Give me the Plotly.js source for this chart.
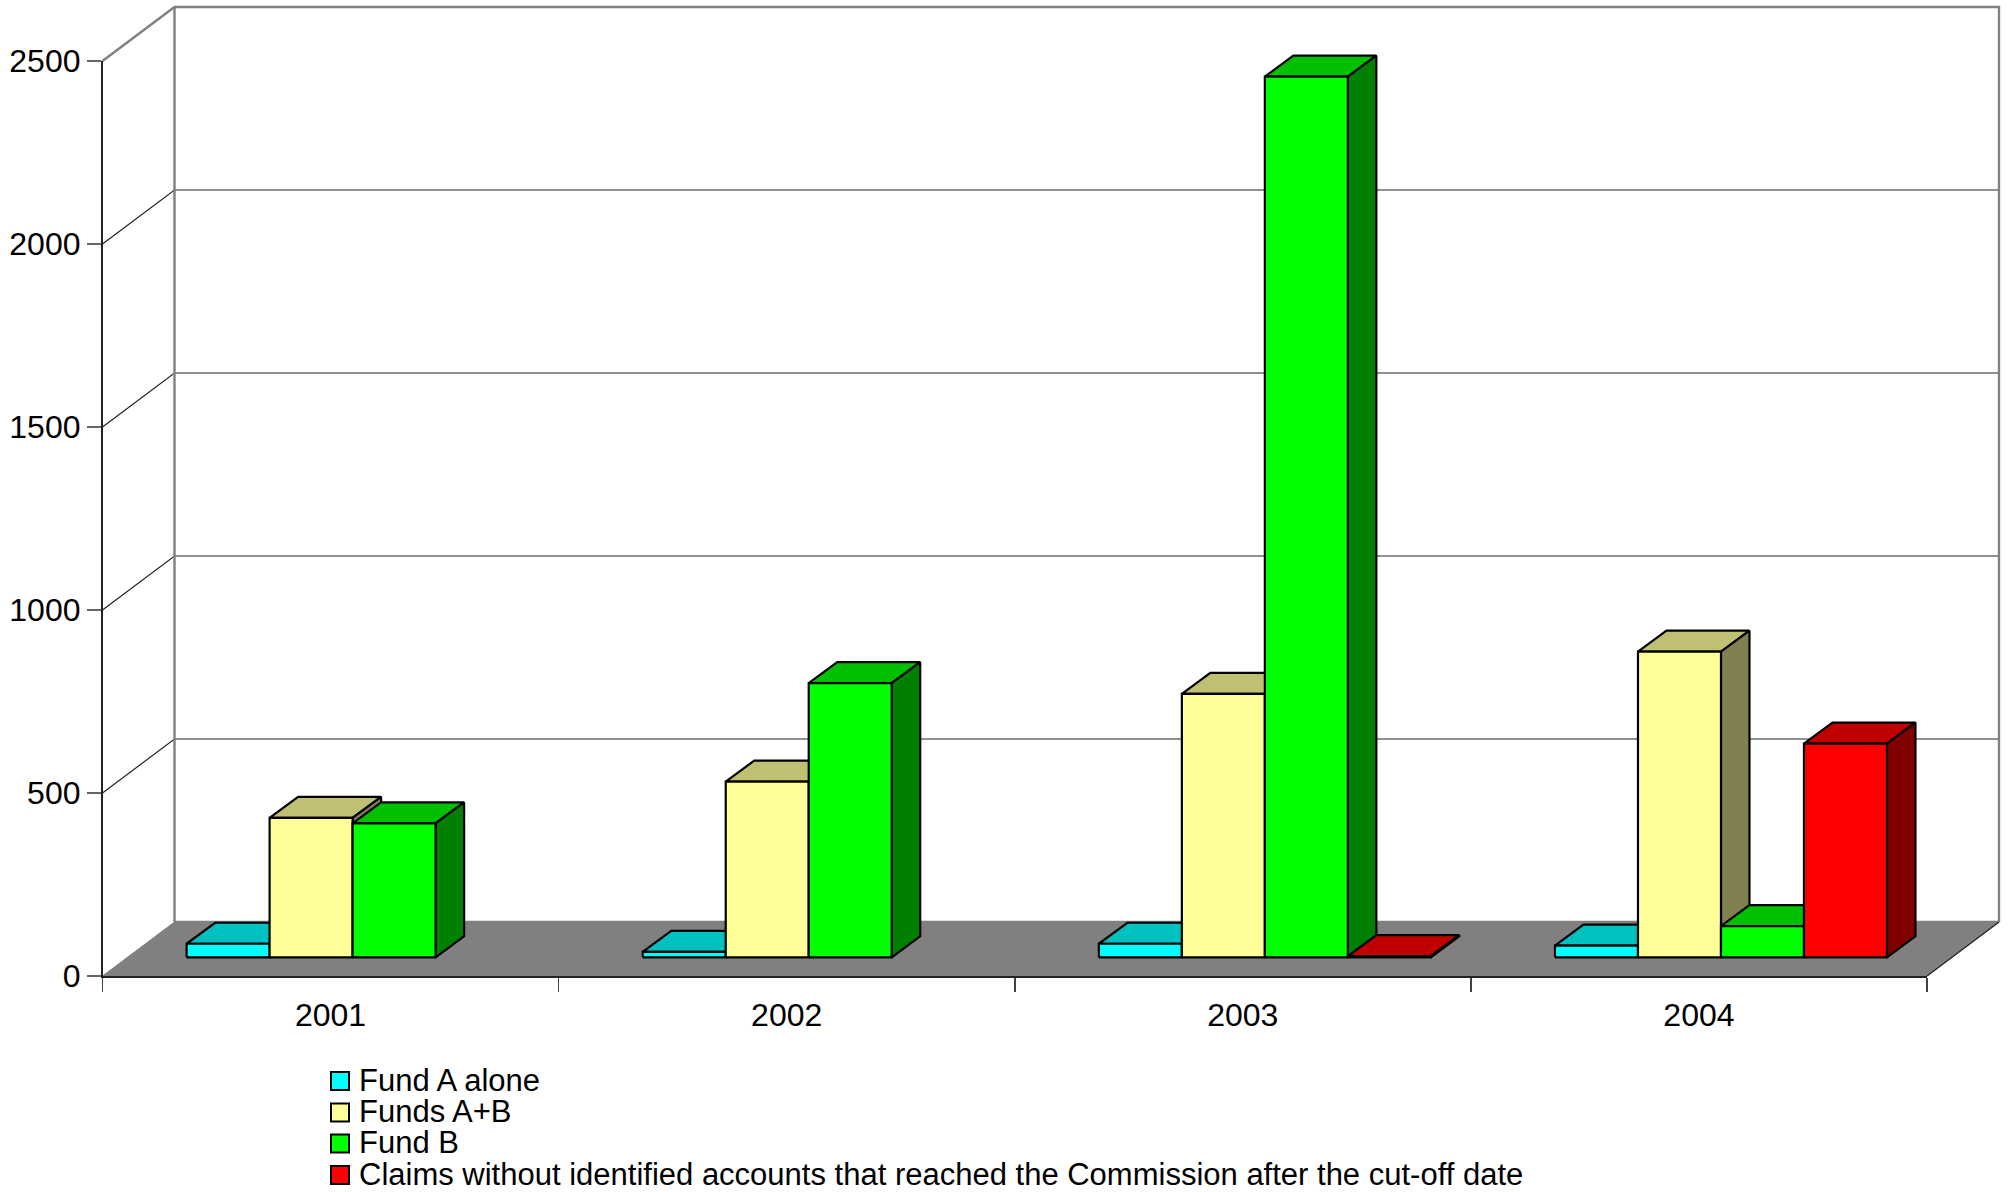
<!DOCTYPE html>
<html>
<head>
<meta charset="utf-8">
<script src="https://cdn.plot.ly/plotly-3.0.1.min.js"></script>
<style>html,body{margin:0;padding:0;background:#fff}</style>
</head>
<body>
<div id="chart" style="width:2010px;height:1192px"></div>
<script>
// Claims per year and per fund
const categories = ['2001', '2002', '2003', '2004'];
const seriesNames = ['Fund A alone', 'Funds A+B', 'Fund B',
  'Claims without identified accounts that reached the Commission after the cut-off date'];
const fundA = [37, 15, 37, 32];
const fundsAB = [381, 480, 720, 835];
const fundB = [366, 749, 2406, 85];
const lateClaims = [null, null, 3, 584];
const yTicks = [0, 500, 1000, 1500, 2000, 2500];

// Front, top and side shades of each series
const frontColors = ['#00ffff', '#ffff99', '#00ff00', '#ff0000'];
const topColors = ['#00c0c0', '#c0c073', '#00c000', '#c00000'];
const sideColors = ['#008080', '#808050', '#008000', '#800000'];

// Page box of the front plane, and the oblique projection in axis units
const W = 2010, H = 1192, L = 102.5, R = 1927, T = 61, B = 976;
const n = categories.length;
const pxX = (R - L) / n;
const pxY = (B - T) / 2500;
const px = p => p / pxX;
const py = p => p / pxY;
const wall = {dx: px(72), dy: py(54)};
const box = {dx: px(28.5), dy: py(21)};
const lift = py(18.7);
const barStart = px(84.1);
const barWidth = px(83);

const traces = [];
function poly(xs, ys, fill, line) {
  traces.push({
    type: 'scatter', mode: 'lines', x: xs, y: ys, fill: 'toself', fillcolor: fill,
    line: {color: line.color, width: line.width},
    showlegend: false, hoverinfo: 'skip'
  });
}
function polyline(xs, ys, color, width) {
  traces.push({
    type: 'scatter', mode: 'lines', x: xs, y: ys,
    line: {color: color, width: width},
    showlegend: false, hoverinfo: 'skip'
  });
}

// Floor
poly([0, n, n + wall.dx, wall.dx, 0], [0, 0, wall.dy, wall.dy, 0], '#808080', {color: '#808080', width: 1});

// Walls: a grid line at each inner tick, grey frame around them
yTicks.slice(1, -1).forEach(v => {
  polyline([0, wall.dx, n + wall.dx], [v, v + wall.dy, v + wall.dy], '#222222', 1.2);
});
polyline([0, wall.dx, n + wall.dx, n + wall.dx],
  [2500, 2500 + wall.dy, 2500 + wall.dy, wall.dy], '#808080', 2.4);
polyline([wall.dx, wall.dx], [wall.dy, 2500 + wall.dy], '#808080', 2.4);
polyline([wall.dx, n + wall.dx], [wall.dy, wall.dy], '#808080', 2.4);
polyline([n, n + wall.dx], [0, wall.dy], '#222222', 1.2);

// One oblique bar: top and side first, front face last
function drawBar(group, slot, value, s) {
  if (value === null) return;
  const x0 = group + barStart + slot * barWidth;
  const x1 = x0 + barWidth;
  const y0 = lift;
  const y1 = lift + value;
  const edge = {color: '#000000', width: 2.2};
  poly([x0, x0 + box.dx, x1 + box.dx, x1, x0],
       [y1, y1 + box.dy, y1 + box.dy, y1, y1], topColors[s], edge);
  poly([x1, x1 + box.dx, x1 + box.dx, x1, x1],
       [y0, y0 + box.dy, y1 + box.dy, y1, y0], sideColors[s], edge);
  poly([x0, x1, x1, x0, x0], [y0, y0, y1, y1, y0], frontColors[s], edge);
}
const allSeries = [fundA, fundsAB, fundB, lateClaims];
categories.forEach((c, g) => {
  allSeries.forEach((vals, s) => drawBar(g, s, vals[g], s));
});

// Transparent point that brings the visible axes into the figure
traces.push({
  type: 'scatter', mode: 'markers', x: [0], y: [0], xaxis: 'x2', yaxis: 'y2',
  marker: {opacity: 0}, showlegend: false, hoverinfo: 'skip'
});

// Legend block below the plot
const paperX = p => p / W;
const paperY = p => 1 - p / H;
const swatchRows = [1081, 1112.5, 1143.5, 1175];
const textRows = [1080, 1111, 1142, 1174];
const shapes = seriesNames.map((name, i) => ({
  type: 'rect', xref: 'paper', yref: 'paper',
  x0: paperX(331), x1: paperX(349),
  y0: paperY(swatchRows[i] - 9), y1: paperY(swatchRows[i] + 9),
  fillcolor: frontColors[i], line: {color: '#000000', width: 2}
}));
const annotations = seriesNames.map((name, i) => ({
  xref: 'paper', yref: 'paper', x: paperX(356.5), y: paperY(textRows[i]),
  xanchor: 'left', yanchor: 'middle', showarrow: false, text: name,
  font: {family: 'Liberation Sans, Arial, sans-serif', size: 31, color: '#000000'}
}));

const axisFont = {family: 'Liberation Sans, Arial, sans-serif', size: 32, color: '#000000'};
const layout = {
  width: W, height: H,
  margin: {l: 0, r: 0, t: 0, b: 0, pad: 0},
  paper_bgcolor: '#ffffff', plot_bgcolor: 'rgba(0,0,0,0)',
  showlegend: false,
  // Whole-page axes carrying the projected faces; same scale as the visible axes
  xaxis: {domain: [0, 1], range: [px(-L), px(W - L)], visible: false, fixedrange: true},
  yaxis: {domain: [0, 1], range: [py(B - H), py(B)], visible: false, fixedrange: true},
  // Visible axes spanning the front plane
  xaxis2: {
    anchor: 'y2', domain: [L / W, R / W], type: 'linear', range: [0, n], fixedrange: true,
    zeroline: false, showgrid: false,
    showline: true, linecolor: '#222222', linewidth: 1.6,
    tickmode: 'array', tickvals: categories.map((c, i) => i + 0.5), ticktext: categories,
    ticks: '', tickfont: axisFont, ticklabelstandoff: 10,
    minor: {tickmode: 'linear', tick0: 0, dtick: 1, ticks: 'outside', ticklen: 14,
            tickwidth: 1.6, tickcolor: '#444444', showgrid: false}
  },
  yaxis2: {
    anchor: 'x2', domain: [1 - B / H, 1 - T / H], type: 'linear', range: [0, 2500], fixedrange: true,
    zeroline: false, showgrid: false,
    showline: true, linecolor: '#222222', linewidth: 1.6,
    tickmode: 'array', tickvals: yTicks, ticks: 'outside', ticklen: 14,
    tickwidth: 1.6, tickcolor: '#666666', tickfont: axisFont
  },
  shapes: shapes,
  annotations: annotations
};

Plotly.newPlot('chart', traces, layout, {displayModeBar: false, staticPlot: true});
</script>
</body>
</html>
